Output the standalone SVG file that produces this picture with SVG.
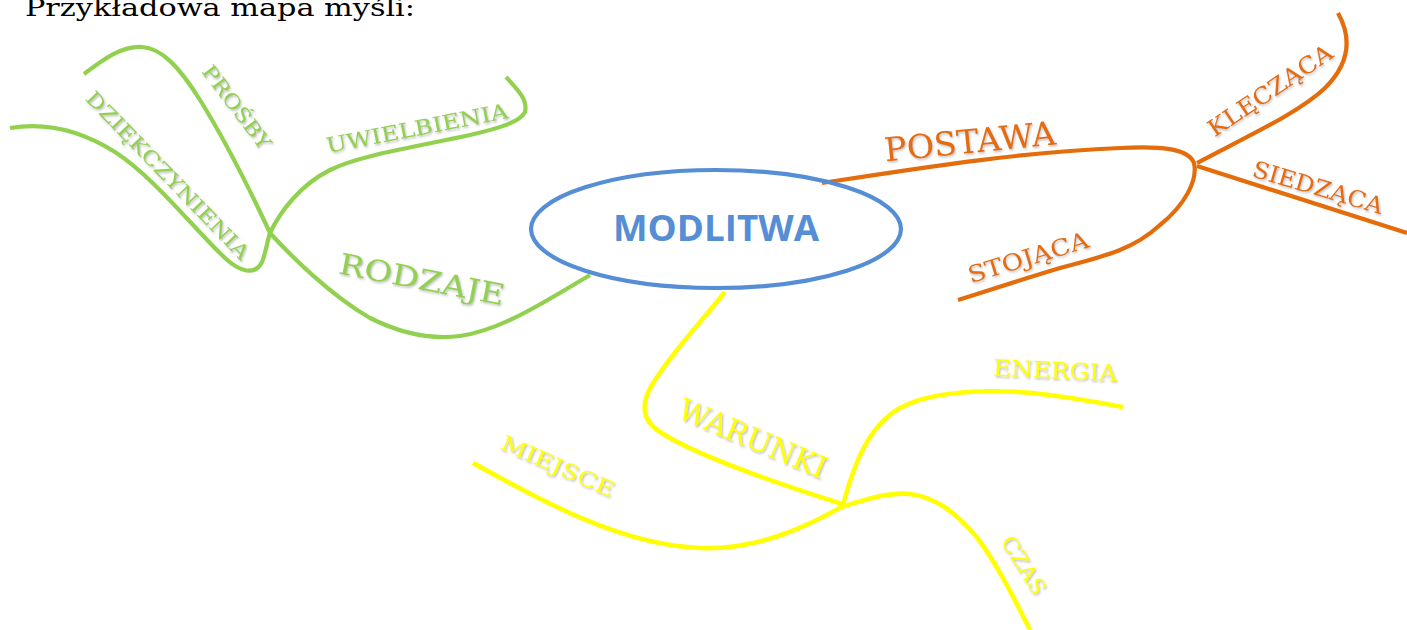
<svg xmlns="http://www.w3.org/2000/svg" width="1407" height="630" viewBox="0 0 1407 630">
<defs>
<style>
.c{fill:none;stroke-width:4.2;stroke-linecap:butt;stroke-linejoin:round}
.g{stroke:#92D050}.o{stroke:#E46C0A}.y{stroke:#FFFF00;stroke-width:4.6}
.t{font-family:"DejaVu Serif","Liberation Serif",serif;text-anchor:middle}
.tg{fill:#92D050}.to{fill:#E46C0A}.ty{fill:#FFFF00}
</style>
<filter id="sh" x="-20%" y="-20%" width="140%" height="140%">
<feDropShadow dx="1" dy="1.5" stdDeviation="0.8" flood-color="#808080" flood-opacity="0.55"/>
</filter>
</defs>
<rect width="1407" height="630" fill="#ffffff"/>
<text x="25" y="16" font-family="DejaVu Serif, Liberation Serif, serif" font-size="24" fill="#000" textLength="390" lengthAdjust="spacingAndGlyphs">Przykładowa mapa myśli:</text>

<g id="connectors">
<path class="c g" d="M84,74 C105,58 122,46 142,47 C162,48 180,68 200,100 C225,140 250,190 270,233 C290,255 330,295 370,318 C400,333 430,340 460,336 C500,330 540,305 590,275"/>
<path class="c g" d="M10,128 C45,122 80,130 115,152 C155,178 195,230 225,258 C240,272 255,276 262,262 C266,252 267,242 270,233 C280,212 300,185 330,170 C360,155 420,146 470,135 C500,128 520,122 525,112 C528,100 518,90 506,77"/>
<path class="c o" d="M822,183 C920,168 1020,152 1120,148 C1160,146 1188,148 1194,163 C1198,180 1185,205 1160,225 C1135,248 1110,255 1060,268 C1020,280 990,290 958,300"/>
<path class="c o" d="M1197,163 C1250,135 1300,112 1325,88 C1350,63 1352,38 1338,13"/>
<path class="c o" d="M1197,166 L1407,233"/>
<path class="c y" d="M725,292 C700,323 670,355 652,385 C640,405 642,420 660,432 C690,452 760,478 845,505"/>
<path class="c y" d="M473,463 C540,500 620,545 700,548 C760,550 810,525 845,505"/>
<path class="c y" d="M843,505 C855,460 870,425 900,408 C930,392 980,390 1020,392 C1060,395 1095,402 1123,407"/>
<path class="c y" d="M838,508 C870,498 890,492 910,494 C935,497 955,512 975,535 C995,560 1015,600 1030,630"/>
</g>

<g id="modlitwa">
<ellipse cx="716" cy="229" rx="185" ry="59" fill="none" stroke="#558ED5" stroke-width="4.2"/>
<text x="716" y="241" font-family="Open Sans, Liberation Sans, sans-serif" font-weight="bold" font-size="36" fill="#558ED5" text-anchor="middle" textLength="206" lengthAdjust="spacingAndGlyphs">MODLITWA</text>
</g>

<g id="rodzaje" filter="url(#sh)"><text class="t tg" transform="translate(422,279) rotate(11)" y="10.5" font-size="29" textLength="168" lengthAdjust="spacingAndGlyphs">RODZAJE</text></g>
<g id="prosby" filter="url(#sh)"><text class="t tg" transform="translate(237,107) rotate(53)" y="7.3" font-size="20" textLength="100" lengthAdjust="spacingAndGlyphs">PROŚBY</text></g>
<g id="dziekczynienia" filter="url(#sh)"><text class="t tg" transform="translate(168,175) rotate(46)" y="7.3" font-size="20" textLength="225" lengthAdjust="spacingAndGlyphs">DZIĘKCZYNIENIA</text></g>
<g id="uwielbienia" filter="url(#sh)"><text class="t tg" transform="translate(417,128) rotate(-11)" y="7.6" font-size="21" textLength="185" lengthAdjust="spacingAndGlyphs">UWIELBIENIA</text></g>

<g id="postawa" filter="url(#sh)"><text class="t to" transform="translate(970,141) rotate(-5.7)" y="12" font-size="33" textLength="172" lengthAdjust="spacingAndGlyphs">POSTAWA</text></g>
<g id="stojaca" filter="url(#sh)"><text class="t to" transform="translate(1028,257) rotate(-17)" y="8.4" font-size="23" textLength="125" lengthAdjust="spacingAndGlyphs">STOJĄCA</text></g>
<g id="kleczaca" filter="url(#sh)"><text class="t to" transform="translate(1270,90) rotate(-34)" y="8.4" font-size="23" textLength="145" lengthAdjust="spacingAndGlyphs">KLĘCZĄCA</text></g>
<g id="siedzaca" filter="url(#sh)"><text class="t to" transform="translate(1318,187) rotate(16.5)" y="8.4" font-size="23" textLength="135" lengthAdjust="spacingAndGlyphs">SIEDZĄCA</text></g>

<g id="warunki" filter="url(#sh)"><text class="t ty" transform="translate(753,438) rotate(23)" y="11" font-size="30" textLength="158" lengthAdjust="spacingAndGlyphs">WARUNKI</text></g>
<g id="miejsce" filter="url(#sh)"><text class="t ty" transform="translate(558,466) rotate(24)" y="7.6" font-size="21" textLength="122" lengthAdjust="spacingAndGlyphs">MIEJSCE</text></g>
<g id="energia" filter="url(#sh)"><text class="t ty" transform="translate(1055,370) rotate(2.5)" y="8.4" font-size="23" textLength="124" lengthAdjust="spacingAndGlyphs">ENERGIA</text></g>
<g id="czas" filter="url(#sh)"><text class="t ty" transform="translate(1024,565) rotate(58)" y="7.6" font-size="21" textLength="65" lengthAdjust="spacingAndGlyphs">CZAS</text></g>
</svg>
